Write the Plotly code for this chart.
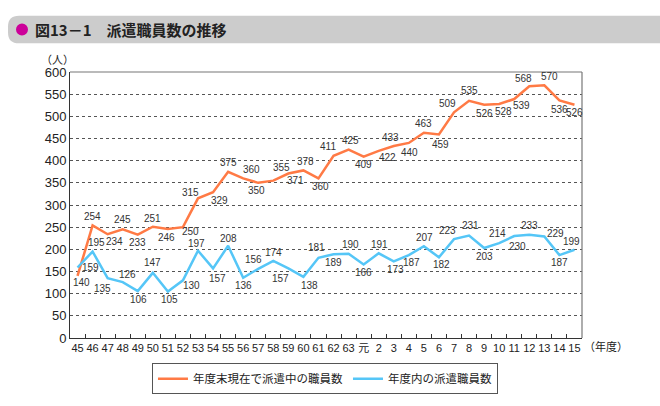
import plotly.graph_objects as go

years = ["45", "46", "47", "48", "49", "50", "51", "52", "53", "54", "55", "56", "57", "58", "59",
         "60", "61", "62", "63", "元", "2", "3", "4", "5", "6", "7", "8", "9", "10", "11", "12",
         "13", "14", "15"]
dispatched_end = [140, 254, 234, 245, 233, 251, 246, 250, 315, 329, 375, 360, 350, 355, 371,
                  378, 360, 411, 425, 409, 422, 433, 440, 463, 459, 509, 535, 526, 528, 539, 568,
                  570, 536, 526]
dispatched_year = [159, 195, 135, 126, 106, 147, 105, 130, 197, 157, 208, 136, 156, 174, 157,
                   138, 181, 189, 190, 166, 191, 173, 187, 207, 182, 223, 231, 203, 214, 230, 233,
                   229, 187, 199]
y_ticks = list(range(0, 601, 50))

# label offsets in pixels (dx right, dy down) -- styling only
off_end = [(4, 7), (0, -8.5), (7, 7.5), (0, -10), (0, 8), (0, -8), (-1, 8.5), (8, 4), (-8, -6),
           (6, 8.5), (0, -9), (8, -9), (-2, 7.5), (8, -13), (7, 7), (2, -8.5), (2, 8.5), (-6, -9),
           (2, -9), (0, 8), (9, 6.5), (-3, -9), (1, 10), (0, -9.4), (2, 9.5), (-7, -9), (0, -10),
           (0, 8.5), (4, 8), (7, 6.5), (-6, -7.5), (5, -8.5), (0, 9), (0, 8)]
off_year = [(13, 0), (4, -8.6), (-5, 10), (5, -7.5), (1, 8.5), (0, -10), (2, 8), (9, 5.5), (-2, -7),
            (4, 9.7), (0, -7.5), (0, 8), (-5, -9), (0, -8.5), (-8, 9.7), (6, 9), (-2, -10), (0, 8.4),
            (2, -9.5), (0, 8), (1, -9), (2, 8), (3, 7.5), (1, -8.5), (3, 7), (-7, -9), (1, -10),
            (0, 8), (-2, -10), (3, 10), (0, -9.5), (11, -3), (0, 7.5), (-3, -8)]

FONT = "Liberation Sans, Arial, Noto Sans CJK JP, sans-serif"
ORANGE = "#ff7a45"
BLUE = "#55c6f7"

fig = go.Figure()
fig.add_trace(go.Scatter(
    x=years, y=dispatched_end, mode="lines", name="年度末現在で派遣中の職員数",
    line=dict(color=ORANGE, width=2.5), hoverinfo="skip"))
fig.add_trace(go.Scatter(
    x=years, y=dispatched_year, mode="lines", name="年度内の派遣職員数",
    line=dict(color=BLUE, width=2.5), hoverinfo="skip"))

L, R, T, B = 70, 582, 72, 341
def xp(px):
    return (px - L) / (R - L)
def yp(py):
    return (B - py) / (B - T)

annotations = []
for series, offs in ((dispatched_end, off_end), (dispatched_year, off_year)):
    for idx, (val, (dx, dy)) in enumerate(zip(series, offs)):
        annotations.append(dict(
            x=idx, y=val, xref="x", yref="y", text=str(val), showarrow=False,
            xshift=dx, yshift=-dy, xanchor="center", yanchor="middle", borderpad=0,
            font=dict(size=10, color="#333333", family=FONT)))

r = 11
x0, x1, y0, y1 = 8, 668, 15, 43
path = (f"M {xp(x0 + r)} {yp(y0)} L {xp(x1)} {yp(y0)} L {xp(x1)} {yp(y1)} L {xp(x0 + r)} {yp(y1)} "
        f"Q {xp(x0)} {yp(y1)} {xp(x0)} {yp(y1 - r)} L {xp(x0)} {yp(y0 + r)} "
        f"Q {xp(x0)} {yp(y0)} {xp(x0 + r)} {yp(y0)} Z")

annotations += [
    dict(text="<b>図13－1　派遣職員数の推移</b>", xref="paper", yref="paper", x=xp(33), y=yp(29),
         xanchor="left", yanchor="middle", showarrow=False,
         font=dict(size=15, color="#222222", family="Noto Sans CJK JP, sans-serif")),
    dict(text="（人）", xref="paper", yref="paper", x=xp(57), y=yp(60), xanchor="center",
         yanchor="middle", showarrow=False, font=dict(size=11, color="#222222")),
    dict(text="（年度）", xref="paper", yref="paper", x=xp(582), y=yp(350), xanchor="left",
         yanchor="middle", showarrow=False, font=dict(size=11, color="#222222")),
]

fig.update_layout(
    width=660, height=406,
    margin=dict(l=L, r=660 - R, t=T, b=406 - B),
    paper_bgcolor="white", plot_bgcolor="white",
    font=dict(family=FONT, color="#222222"),
    showlegend=True,
    legend=dict(orientation="h", x=0.498, xanchor="center", y=-0.095, yanchor="top",
                bordercolor="#555555", borderwidth=1, font=dict(size=11.5, color="#222222"),
                itemwidth=30, tracegroupgap=0),
    xaxis=dict(type="category", range=[-0.5, 33.5], showgrid=False, showline=True,
               linecolor="#333333", linewidth=1, mirror=False, ticks="inside", ticklen=4,
               tickcolor="#333333", tickson="boundaries", tickangle=0,
               tickfont=dict(size=11, color="#222222"), fixedrange=True),
    yaxis=dict(range=[0, 600], tickvals=y_ticks, showgrid=True, gridcolor="#555555",
               griddash="dot", gridwidth=1, showline=True, linecolor="#333333", linewidth=1,
               ticks="", tickfont=dict(size=13, color="#222222"), zeroline=False, fixedrange=True),
    shapes=[
        dict(type="path", xref="paper", yref="paper", path=path, fillcolor="#cccccc",
             line=dict(width=0), layer="below"),
        dict(type="circle", xref="paper", yref="paper", x0=xp(16), x1=xp(28), y0=yp(23), y1=yp(35),
             fillcolor="#cc0099", line=dict(width=0)),
        dict(type="line", xref="paper", yref="paper", x0=0, x1=1, y0=1, y1=1,
             line=dict(color="#777777", width=1.2)),
        dict(type="line", xref="paper", yref="paper", x0=1, x1=1, y0=0, y1=1,
             line=dict(color="#777777", width=1.2)),
    ],
    annotations=annotations,
)

fig.write_html("out.html")
